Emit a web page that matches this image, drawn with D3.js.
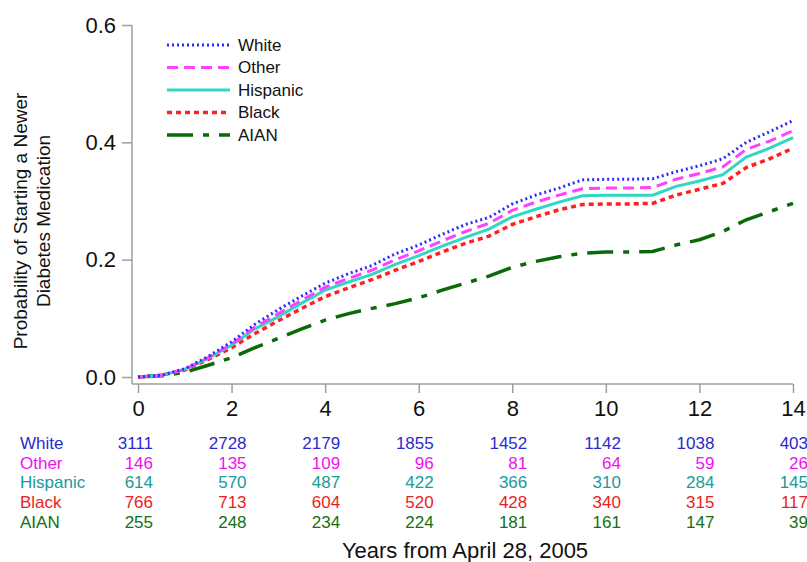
<!DOCTYPE html>
<html>
<head>
<meta charset="utf-8">
<script src="https://cdn.jsdelivr.net/npm/d3@7"></script>
<style>
  body { margin: 0; background: #fff; }
  text { font-family: Arial, "Liberation Sans", sans-serif; }
</style>
</head>
<body>
<div id="chart"></div>
<script>
// データ
var years = [0,0.5,1,1.5,2,2.5,3,3.5,4,4.5,5,5.5,6,6.5,7,7.5,8,8.5,9,9.5,10,10.5,11,11.5,12,12.5,13,13.5,14];
var white    = [0,0.003,0.014,0.035,0.06,0.09,0.115,0.138,0.16,0.176,0.19,0.21,0.225,0.243,0.26,0.272,0.295,0.31,0.322,0.336,0.337,0.337,0.338,0.35,0.36,0.372,0.40,0.418,0.437];
var other    = [0,0.003,0.013,0.033,0.056,0.085,0.108,0.131,0.153,0.168,0.182,0.2,0.215,0.232,0.248,0.262,0.284,0.298,0.31,0.321,0.322,0.322,0.323,0.337,0.347,0.358,0.388,0.402,0.42];
var hispanic = [0,0.003,0.013,0.032,0.054,0.082,0.103,0.126,0.148,0.162,0.175,0.192,0.207,0.223,0.238,0.252,0.273,0.286,0.298,0.309,0.31,0.31,0.31,0.325,0.334,0.345,0.375,0.39,0.408];
var black    = [0,0.003,0.012,0.03,0.05,0.074,0.096,0.117,0.137,0.152,0.166,0.182,0.197,0.213,0.228,0.24,0.26,0.273,0.285,0.294,0.295,0.295,0.296,0.31,0.32,0.33,0.357,0.372,0.39];
var aian     = [0,0.002,0.008,0.02,0.033,0.05,0.066,0.082,0.097,0.108,0.117,0.125,0.135,0.148,0.16,0.172,0.187,0.197,0.205,0.211,0.213,0.213,0.214,0.225,0.234,0.248,0.268,0.282,0.296];

// リスク集団の人数
var riskYears = [0,2,4,6,8,10,12,14];
var riskWhite    = [3111,2728,2179,1855,1452,1142,1038,403];
var riskOther    = [146,135,109,96,81,64,59,26];
var riskHispanic = [614,570,487,422,366,310,284,145];
var riskBlack    = [766,713,604,520,428,340,315,117];
var riskAian     = [255,248,234,224,181,161,147,39];

var xTicks = [0,2,4,6,8,10,12,14];
var yTicks = [0,0.2,0.4,0.6];

var groups = [
  {name:"White",    vals:white,    risk:riskWhite,    line:"#2b2bff", txt:"#2a2ad0", dash:"2,3",        w:3},
  {name:"Other",    vals:other,    risk:riskOther,    line:"#ff40ff", txt:"#f010f0", dash:"11,6",       w:3},
  {name:"Hispanic", vals:hispanic, risk:riskHispanic, line:"#30d8c4", txt:"#1a9a9a", dash:null,         w:3},
  {name:"Black",    vals:black,    risk:riskBlack,    line:"#ff2020", txt:"#ee1c1c", dash:"5,4",        w:3.5},
  {name:"AIAN",     vals:aian,     risk:riskAian,     line:"#0a6a0a", txt:"#137013", dash:"26,10,6,10", w:3.5}
];

var W = 807, H = 562;
var x = d3.scaleLinear().domain([0,14]).range([138,793]);
var y = d3.scaleLinear().domain([0,0.6]).range([377,25]);

var svg = d3.select("#chart").append("svg")
  .attr("width", W).attr("height", H);

// 軸
var axisColor = "#9a9ea3";
svg.append("line").attr("x1",132).attr("x2",132).attr("y1",y(0.6)).attr("y2",384)
  .attr("stroke",axisColor).attr("stroke-width",1.5);
svg.append("line").attr("x1",132).attr("x2",x(14)).attr("y1",384).attr("y2",384)
  .attr("stroke",axisColor).attr("stroke-width",1.5);

var yAxis = d3.axisLeft(y).tickValues(yTicks).tickFormat(d3.format(".1f")).tickSize(10).tickPadding(6);
var gy = svg.append("g").attr("transform","translate(132,0)").call(yAxis);
gy.select(".domain").remove();

var xAxis = d3.axisBottom(x).tickValues(xTicks).tickFormat(d3.format("d")).tickSize(9).tickPadding(7);
var gx = svg.append("g").attr("transform","translate(0,384)").call(xAxis);
gx.select(".domain").remove();

svg.selectAll(".tick line").attr("stroke",axisColor).attr("stroke-width",1.5);
svg.selectAll(".tick text").attr("fill","#111").style("font-size","22px");

// 曲線
var line = d3.line().x(function(d){ return x(d[0]); }).y(function(d){ return y(d[1]); });
groups.slice().reverse().forEach(function(g){
  svg.append("path")
    .datum(years.map(function(t,i){ return [t, g.vals[i]]; }))
    .attr("d", line)
    .attr("fill","none")
    .attr("stroke", g.line)
    .attr("stroke-width", g.w)
    .attr("stroke-dasharray", g.dash);
});

// 凡例
groups.forEach(function(g,i){
  var ly = 45 + i*22.5;
  svg.append("line").attr("x1",167).attr("x2",230).attr("y1",ly).attr("y2",ly)
    .attr("stroke",g.line).attr("stroke-width",g.w).attr("stroke-dasharray",g.dash);
  svg.append("text").attr("x",238).attr("y",ly).attr("dy","0.35em")
    .style("font-size","17px").attr("fill","#111").text(g.name);
});

// Y軸ラベル
var yl = svg.append("text").attr("transform","translate(0,221) rotate(-90)")
  .attr("text-anchor","middle").style("font-size","19px").attr("fill","#111");
yl.append("tspan").attr("x",0).attr("y",27).text("Probability of Starting a Newer");
yl.append("tspan").attr("x",0).attr("y",50).text("Diabetes Medication");

// リスク表
groups.forEach(function(g,i){
  var ry = 443 + i*19.7;
  svg.append("text").attr("x",20).attr("y",ry).attr("dy","0.35em")
    .style("font-size","17px").attr("fill",g.txt).text(g.name);
  riskYears.forEach(function(t,j){
    svg.append("text").attr("x",x(t)+15).attr("y",ry).attr("dy","0.35em")
      .attr("text-anchor","end").style("font-size","17px").attr("fill",g.txt)
      .text(g.risk[j]);
  });
});

// X軸ラベル
svg.append("text").attr("x",465).attr("y",550).attr("dy","0.35em")
  .attr("text-anchor","middle").style("font-size","22px").attr("fill","#111")
  .text("Years from April 28, 2005");
</script>
</body>
</html>
